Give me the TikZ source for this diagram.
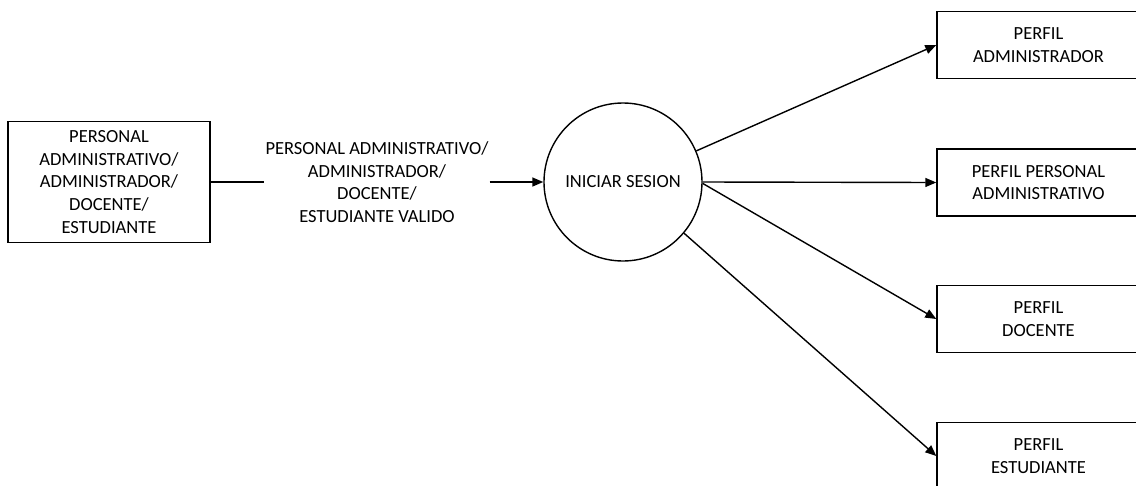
\documentclass[tikz,border=0pt]{standalone}
\usepackage{fontspec}
\setmainfont{Carlito}
\usetikzlibrary{arrows.meta}
\begin{document}
\begin{tikzpicture}[x=1pt,y=-1pt,
  every node/.style={font=\fontsize{18.5}{22.7}\selectfont, align=center},
  box/.style={draw, line width=1.4pt, minimum width=202pt, minimum height=121pt, inner sep=0pt},
  pbox/.style={draw, line width=1.4pt, minimum width=203pt, minimum height=67pt, inner sep=0pt},
  proc/.style={draw, circle, line width=1.4pt, minimum size=158pt, inner sep=0pt},
  flow/.style={line width=1.4pt},
  arr/.style={line width=1.4pt, -{Triangle[length=11pt,width=9pt]}}]
\useasboundingbox (0,0) rectangle (1136,485);
\clip (0,0) rectangle (1136,485);
\node[box] (src) at (109,182) {PERSONAL\\ADMINISTRATIVO/\\ADMINISTRADOR/\\DOCENTE/\\ESTUDIANTE};
\node[inner sep=1pt] (lbl) at (377,182) {PERSONAL ADMINISTRATIVO/\\ADMINISTRADOR/\\DOCENTE/\\ESTUDIANTE VALIDO};
\node[proc] (ini) at (623,182) {INICIAR SESION};
\node[pbox] (p1) at (1038.5,45) {PERFIL\\ADMINISTRADOR};
\node[pbox] (p2) at (1038.5,182.5) {PERFIL PERSONAL\\ADMINISTRATIVO};
\node[pbox] (p3) at (1038.5,319) {PERFIL\\DOCENTE};
\node[pbox] (p4) at (1038.5,456) {PERFIL\\ESTUDIANTE};
\draw[flow] (src.east) -- (lbl.west);
\draw[arr] (lbl.east) -- (ini.west);
\draw[arr] (ini.23) -- (p1.west);
\draw[arr] (ini.east) -- (p2.west);
\draw[arr] (ini.-1) -- (p3.west);
\draw[arr] (ini.-40) -- (p4.west);
\end{tikzpicture}
\end{document}
